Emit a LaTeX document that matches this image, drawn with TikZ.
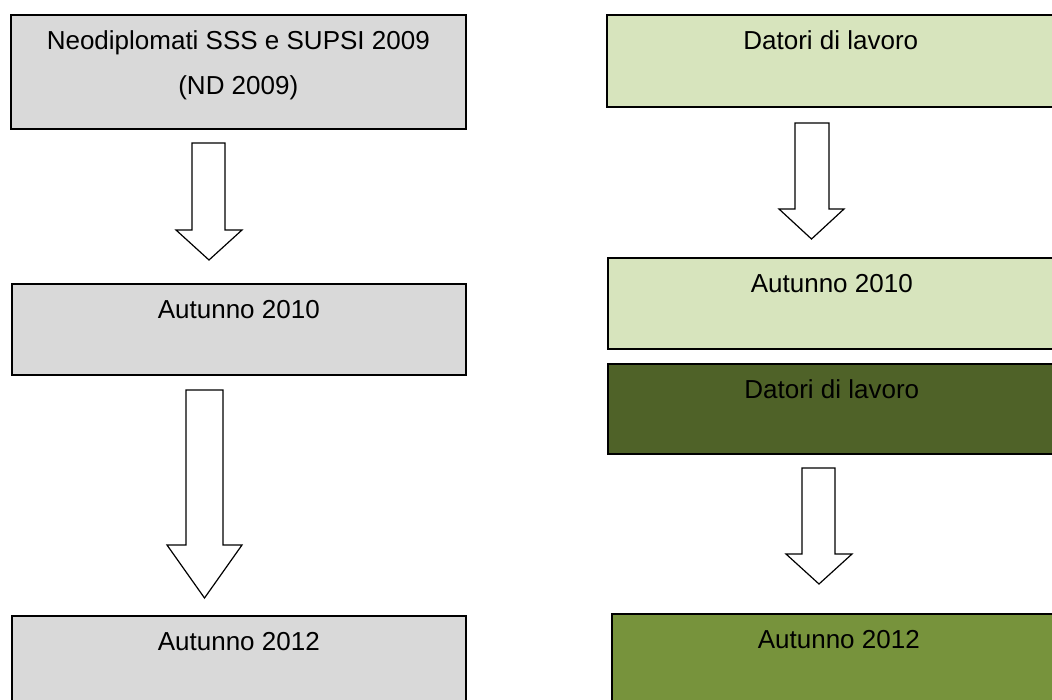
\documentclass[tikz,border=0pt]{standalone}
\usepackage{fontspec}
\setmainfont{Liberation Sans}
\definecolor{boxgray}{HTML}{D9D9D9}
\definecolor{palegreen}{HTML}{D7E4BD}
\definecolor{darkolive}{HTML}{4F6228}
\definecolor{olivegreen}{HTML}{77933C}
\usetikzlibrary{positioning}

\begin{document}
\begin{tikzpicture}[
        x=1pt, y=-1pt,
        box/.style={rectangle, draw=black, line width=1.6pt, anchor=north west,
                    inner sep=0pt, align=center, text height=35pt,
                    font=\fontsize{26}{45}\selectfont},
        hollow/.style={draw=black, fill=white, line width=1.2pt, line join=miter}
    ]
        \clip (0,0) rectangle (1052,699);

        % left column
        \node[box, fill=boxgray, minimum width=455pt, text height=80pt, text depth=34pt] (nd)
              at (10,14) {Neodiplomati SSS e SUPSI 2009\\(ND 2009)};
        \node[box, fill=boxgray, minimum width=454pt, text depth=56pt] (aut10)
              at (11,283) {Autunno 2010};
        \node[box, fill=boxgray, minimum width=454pt, text depth=65pt] (aut12)
              at (11,615) {Autunno 2012};

        % right column
        \node[box, fill=palegreen, minimum width=448pt, text depth=57pt] (dat)
              at (606,14) {Datori di lavoro};
        \node[box, fill=palegreen, minimum width=448pt, text depth=56pt] (dataut10)
              at (607,257) {Autunno 2010};
        \node[box, fill=darkolive, minimum width=448pt, text depth=55pt] (dat2)
              at (607,363) {Datori di lavoro};
        \node[box, fill=olivegreen, minimum width=454pt, text depth=65pt] (dataut12)
              at (611,613) {Autunno 2012};

        % block arrows: shaft left/right, shaft top, head base, head left/right, tip
        \foreach \sl/\sr/\ya/\yb/\hl/\hr/\yc in {192/225/143/230/176/242/260,
                                               186/223/390/545/167/242/598,
                                               795/829/123/209/779/844/239,
                                               802/835/468/554/786/852/584}
            \draw[hollow] (\sl,\ya) -- (\sl,\yb) -- (\hl,\yb) -- ({(\hl+\hr)/2},\yc)
                -- (\hr,\yb) -- (\sr,\yb) -- (\sr,\ya) -- cycle;
    \end{tikzpicture}
\end{document}
